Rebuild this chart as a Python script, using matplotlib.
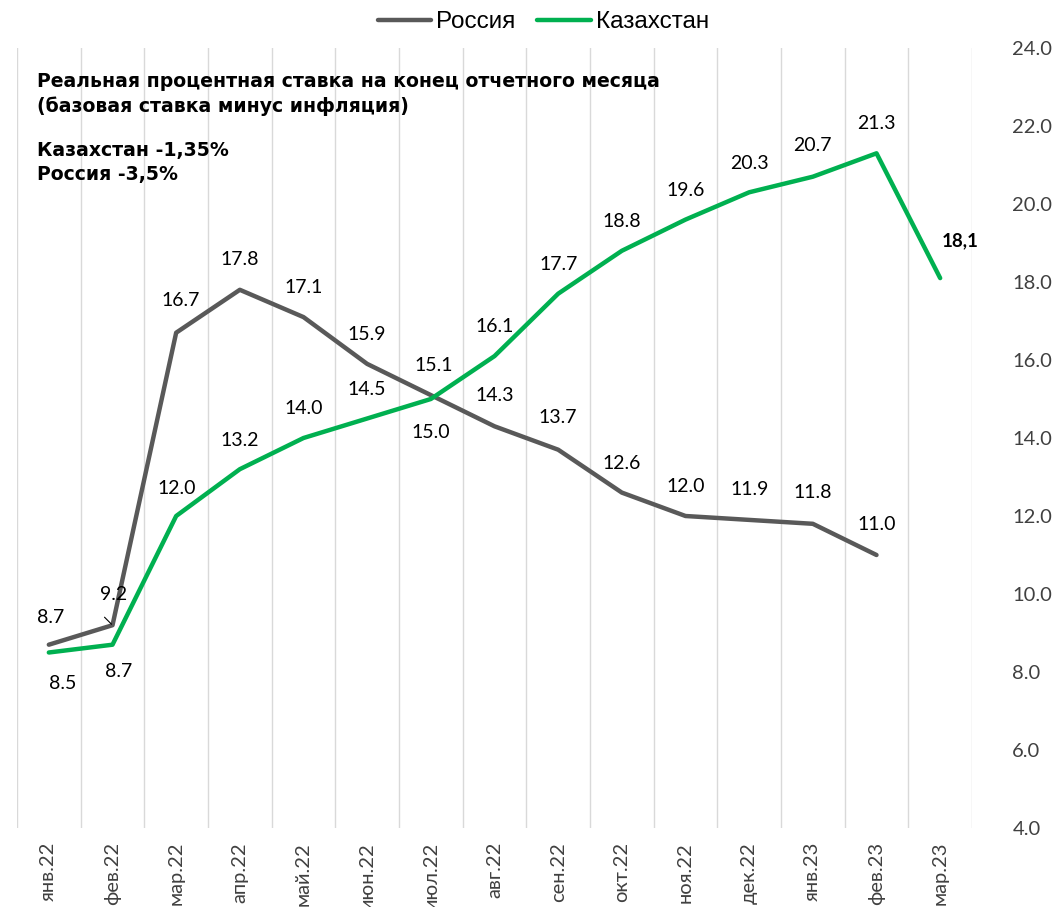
import numpy as np
import matplotlib
matplotlib.use("Agg")
import matplotlib.pyplot as plt

# data
months = ["янв.22", "фев.22", "мар.22", "апр.22", "май.22", "июн.22", "июл.22",
          "авг.22", "сен.22", "окт.22", "ноя.22", "дек.22", "янв.23", "фев.23", "мар.23"]
russia = [8.7, 9.2, 16.7, 17.8, 17.1, 15.9, 15.1, 14.3, 13.7, 12.6, 12.0, 11.9, 11.8, 11.0]
kazakhstan = [8.5, 8.7, 12.0, 13.2, 14.0, 14.5, 15.0, 16.1, 17.7, 18.8, 19.6, 20.3, 20.7, 21.3, 18.1]
kaz_last_label = "18,1"

# label offsets in pixels (dx, dy)
ru_off = [(2, 27), (1, 31), (4, 32), (0, 30), (0, 30), (0, 29), (3, 30),
          (0, 31), (0, 32), (0, 29), (0, 30), (0, 30), (0, 31), (0, 31)]
kz_off = [(14, -31), (6, -27), (1, 28), (0, 29), (0, 29), (0, 29), (0, -34),
          (0, 30), (0, 29), (0, 29), (0, 29), (0, 29), (0, 31), (0, 30)]

GRAY = "#595959"
GREEN = "#00B050"
LBL = ["Lato", "DejaVu Sans"]

fig = plt.figure(figsize=(10.53, 9.07), dpi=100)
ax = fig.add_axes([17 / 1053, 1 - 828 / 907, (972 - 17) / 1053, (828 - 48) / 907])

x = np.arange(len(months))
ax.plot(x[:len(russia)], russia, color=GRAY, lw=3.2, label="Россия", solid_capstyle="round")
ax.plot(x, kazakhstan, color=GREEN, lw=3.2, label="Казахстан", solid_capstyle="round")

lbl_font = dict(family=LBL, size=14, color="black")
for i, v in enumerate(russia):
    dx, dy = ru_off[i]
    ax.annotate(f"{v:.1f}", xy=(i, v), xytext=(dx, dy), textcoords="offset pixels",
                ha="center", va="center", **lbl_font)
# leader line for the февраль label
ax.annotate("", xy=(1, russia[1]), xytext=(-8, 8), textcoords="offset pixels",
            arrowprops=dict(arrowstyle="-", color="black", lw=0.8, shrinkA=0, shrinkB=1))
for i, v in enumerate(kazakhstan[:-1]):
    dx, dy = kz_off[i]
    ax.annotate(f"{v:.1f}", xy=(i, v), xytext=(dx, dy), textcoords="offset pixels",
                ha="center", va="center", **lbl_font)
ax.annotate(kaz_last_label, xy=(len(kazakhstan) - 1, kazakhstan[-1]), xytext=(20, 37),
            textcoords="offset pixels", ha="center", va="center",
            family=LBL, size=13.5, weight="bold", color="black")

ax.set_xlim(-0.5, len(months) - 0.5)
ax.set_ylim(4, 24)
yt = np.arange(4, 24.1, 2)
ax.set_yticks(yt)
ax.set_yticklabels([f"{t:.1f}" for t in yt])
ax.yaxis.tick_right()
ax.tick_params(axis="y", length=0, pad=29, labelsize=14.5, labelcolor="#404040")
for t in ax.get_yticklabels():
    t.set_family(LBL)

ax.set_xticks(x)
ax.set_xticklabels(months, rotation=90, va="top", ha="center")
ax.tick_params(axis="x", length=0, pad=10, labelsize=14.5, labelcolor="#404040")
for t in ax.get_xticklabels():
    t.set_family(LBL)

# vertical gridlines at category boundaries
for b in np.arange(-0.5, len(months), 1.0):
    ax.axvline(b, color="#D9D9D9", lw=1, zorder=0)
for s in ax.spines.values():
    s.set_visible(False)

# text block
fig.text(37 / 1053, 1 - 94 / 907, "Реальная процентная ставка на конец отчетного месяца\n(базовая ставка минус инфляция)",
         family="DejaVu Sans", weight="bold", size=13.6, va="center", linespacing=1.3)
fig.text(37 / 1053, 1 - 162.5 / 907, "Казахстан -1,35%\nРоссия -3,5%",
         family="DejaVu Sans", weight="bold", size=13.6, va="center", linespacing=1.3)

leg = fig.legend(loc="center", bbox_to_anchor=(0.516, 1 - 22 / 907), ncol=2, frameon=False,
                 prop=dict(family="Liberation Sans", size=17.5), handlelength=2.2,
                 handletextpad=0.2, columnspacing=0.9)

fig.savefig("out.png", dpi=100)
